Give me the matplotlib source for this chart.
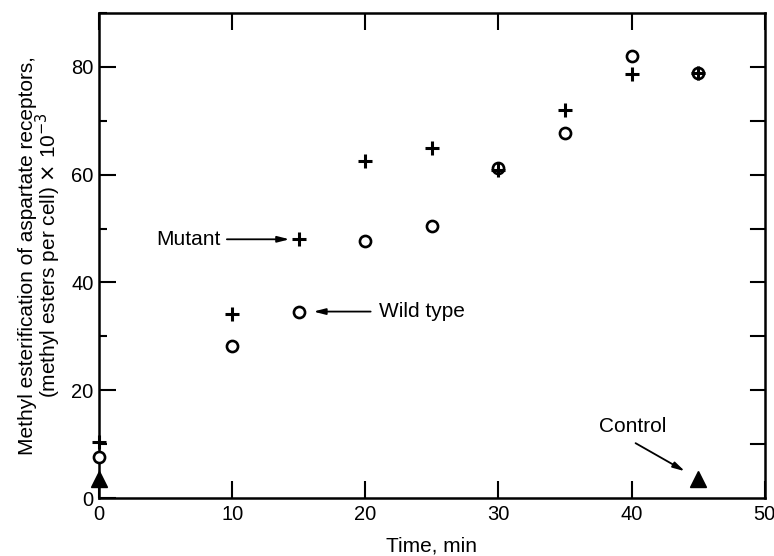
import matplotlib
matplotlib.use('Agg')
import matplotlib.pyplot as plt
from matplotlib.ticker import MultipleLocator

plt.rcParams['font.family'] = ['Liberation Sans', 'DejaVu Sans']

# time points (min)
t = [0, 10, 15, 20, 25, 30, 35, 40, 45]
# methyl esters per cell x 10^-3
mutant = [10.5, 34.2, 48.0, 62.5, 65.0, 60.8, 72.0, 78.7, 78.8]
wild = [7.6, 28.3, 34.6, 47.6, 50.5, 61.2, 67.7, 82.0, 78.8]
ctrl_t = [0, 45]
ctrl = [3.6, 3.6]

fig = plt.figure(figsize=(7.74, 5.56), dpi=100)
ax = fig.add_axes([0.128, 0.104, 0.860, 0.873])

ax.plot(t, wild, 'o', ms=8, mfc='white', mec='black', mew=1.9, clip_on=False, zorder=3)
ax.plot(t, mutant, '+', ms=10, mec='black', mew=2.2, clip_on=False, zorder=4)
ax.plot(ctrl_t, ctrl, '^', ms=12, color='black', clip_on=False, zorder=5)

ax.set_xlim(0, 50)
ax.set_ylim(0, 90)
ax.xaxis.set_major_locator(MultipleLocator(10))
ax.yaxis.set_major_locator(MultipleLocator(20))
ax.yaxis.set_minor_locator(MultipleLocator(10))
ax.tick_params(which='both', direction='in', top=True, right=False, width=1.5,
               labelsize=14.5, colors='black')
ax.tick_params(which='major', length=12)
ax.tick_params(axis='x', pad=5)
ax.tick_params(axis='y', pad=4)
ax.tick_params(axis='y', which='minor', length=6)
ax.tick_params(axis='x', which='minor', length=0)
for s in ax.spines.values():
    s.set_linewidth(1.8)

# right side ticks every 10
for yv in range(10, 90, 10):
    ax.plot([49.0, 50], [yv, yv], color='black', lw=1.5, clip_on=False)

ax.set_xlabel('Time, min', fontsize=15, labelpad=9)
ax.set_ylabel('Methyl esterification of aspartate receptors,\n'
              '(methyl esters per cell) $\\times$ 10$^{-3}$',
              fontsize=15, linespacing=0.85, labelpad=6)

arw = dict(arrowstyle='-|>,head_length=0.7,head_width=0.18', color='black', lw=1.3,
           shrinkA=0, shrinkB=0)
ax.text(9.1, 48, 'Mutant', fontsize=15, ha='right', va='center')
ax.annotate('', xy=(14.3, 48), xytext=(9.6, 48), arrowprops=arw)
ax.text(21.0, 34.6, 'Wild type', fontsize=15, ha='left', va='center')
ax.annotate('', xy=(16.1, 34.6), xytext=(20.4, 34.6), arrowprops=arw)
ax.text(40.1, 13.2, 'Control', fontsize=15, ha='center', va='center')
ax.annotate('', xy=(44.0, 5.0), xytext=(40.3, 10.2), arrowprops=arw)

fig.savefig('out.png', dpi=100)
